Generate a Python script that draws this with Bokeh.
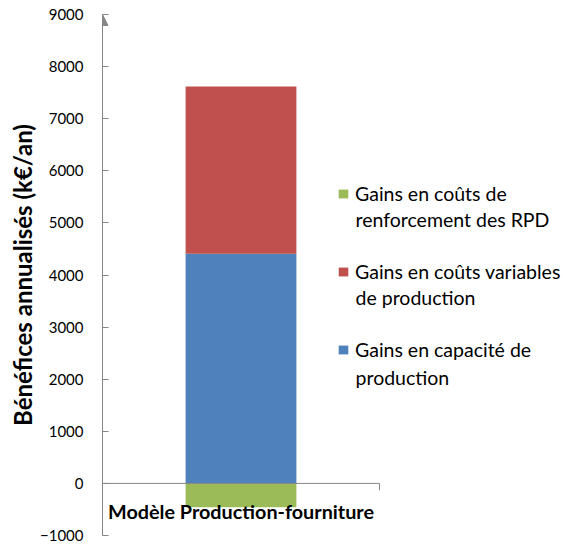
from bokeh.plotting import figure
from bokeh.models import (Range1d, FixedTicker, Label, Legend, LegendItem,
                          Arrow, NormalHead, ColumnDataSource)
from bokeh.embed import file_html
from bokeh.resources import INLINE

# ---- data ----
category = ["Modèle Production-fourniture"]
series_line1 = ["Gains en capacité de", "Gains en coûts variables", "Gains en coûts de"]
series_line2 = ["production", "de production", "renforcement des RPD"]
gain_capacite = [4410]
gain_couts_variables = [3210]
gain_renforcement = [-460]
y_ticks = [-1000, 0, 1000, 2000, 3000, 4000, 5000, 6000, 7000, 8000, 9000]

FONT = "Lato"
AXIS_COLOR = "#868686"

X_MAX = 461 / 277  # frame spans the legend area too; the plot axis ends at x=1

p = figure(width=563, height=545, output_backend="svg", toolbar_location=None,
           x_range=Range1d(0, X_MAX), y_range=Range1d(-1000, 9000),
           x_axis_type=None, min_border_left=102, min_border_right=0,
           min_border_top=14, min_border_bottom=10)
p.outline_line_color = None
p.grid.visible = False
p.background_fill_color = "white"
p.border_fill_color = "white"

xc = [0.5]
blue_src = ColumnDataSource(dict(x=xc, bottom=[0], top=gain_capacite))
red_src = ColumnDataSource(dict(x=xc, bottom=gain_capacite,
                                top=[a + b for a, b in zip(gain_capacite, gain_couts_variables)]))
green_src = ColumnDataSource(dict(x=xc, bottom=[0], top=gain_renforcement))

r_blue = p.vbar(x="x", bottom="bottom", top="top", width=0.4, source=blue_src,
                fill_color="#4F81BD", line_color=None)
r_red = p.vbar(x="x", bottom="bottom", top="top", width=0.4, source=red_src,
               fill_color="#C0504D", line_color=None)
r_green = p.vbar(x="x", bottom="bottom", top="top", width=0.4, source=green_src,
                 fill_color="#9BBB59", line_color=None)

# category axis line at zero, with its end tick
p.segment(x0=[0], y0=[0], x1=[1], y1=[0], line_color=AXIS_COLOR, line_width=1)
p.segment(x0=[1], y0=[0], x1=[1], y1=[-130], line_color=AXIS_COLOR, line_width=1)

# y axis
ya = p.yaxis[0]
ya.ticker = FixedTicker(ticks=y_ticks)
ya.axis_line_color = AXIS_COLOR
ya.major_tick_line_color = AXIS_COLOR
ya.major_tick_in = 6
ya.major_tick_out = 0
ya.minor_tick_line_color = None
ya.major_label_text_font = FONT
ya.major_label_text_font_size = "15px"
ya.major_label_text_color = "#000000"
ya.major_label_standoff = 19
ya.axis_label = "Bénéfices annualisés (k€/an)"
ya.axis_label_text_font = FONT
ya.axis_label_text_font_style = "bold"
ya.axis_label_text_font_size = "24px"
ya.axis_label_text_color = "#000000"
ya.axis_label_standoff = 0

# arrow head on y axis
p.add_layout(Arrow(end=NormalHead(size=11, fill_color=AXIS_COLOR, line_color=AXIS_COLOR),
                   x_start=0, y_start=8900, x_end=0, y_end=9000,
                   line_color=AXIS_COLOR, line_width=1))

# category label
p.add_layout(Label(x=0.5, y=-530, text=category[0], text_align="center",
                   text_baseline="middle", text_font=FONT, text_font_style="bold",
                   text_font_size="19.8px", text_color="#000000"))

legend = Legend(items=[LegendItem(label=series_line1[2], renderers=[r_green]),
                       LegendItem(label=series_line1[1], renderers=[r_red]),
                       LegendItem(label=series_line1[0], renderers=[r_blue])],
                location=(235, 174), padding=0, spacing=55,
                glyph_width=12, glyph_height=11, label_standoff=6,
                label_text_font=FONT, label_text_font_size="19.5px",
                label_text_color="#000000",
                border_line_alpha=0, background_fill_alpha=0)
p.add_layout(legend, "center")

# second lines of the legend entries
x_text = (355 - 102) / 277
for txt, yv in zip([series_line2[2], series_line2[1], series_line2[0]], [5067, 3570, 2035]):
    p.add_layout(Label(x=x_text, y=yv, text=txt, text_align="left", text_baseline="middle",
                       text_font=FONT, text_font_size="19.5px", text_color="#000000"))

open("out.html", "w").write(file_html(p, INLINE))
